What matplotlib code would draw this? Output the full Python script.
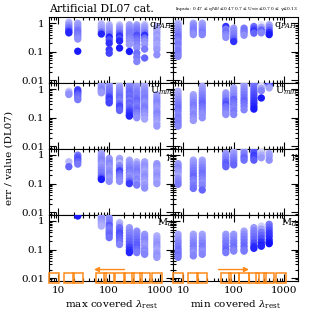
import matplotlib.pyplot as plt
import numpy as np
from matplotlib.colors import LinearSegmentedColormap
from matplotlib.ticker import FixedLocator, LogLocator, NullFormatter

plt.rcParams['font.family'] = ['DejaVu Serif']
plt.rcParams['mathtext.fontset'] = 'dejavuserif'

# wavelengths of the columns (um)
lam_max = [16, 24, 70, 100, 160, 250, 350, 500, 870]
lam_min = [8, 16, 24, 70, 100, 160, 250, 350, 500]
bands = [8, 16, 24, 70, 100, 160, 250, 350, 500, 870]

params = ['q$_{PAH}$', 'U$_{min}$', r'$\gamma$', 'M$_d$']

# ---- q_PAH ----
qpah_max_y = [
    [1.1, 0.95, 0.82, 0.7, 0.6, 0.52, 0.46],
    [1.0, 0.85, 0.7, 0.58, 0.48, 0.4, 0.33, 0.28, 0.105],
    [0.95, 0.82, 0.7, 0.6, 0.5, 0.42],
    [0.88, 0.75, 0.62, 0.52, 0.42, 0.33, 0.26, 0.2, 0.12, 0.09],
    [0.88, 0.75, 0.62, 0.52, 0.44, 0.36, 0.29, 0.24, 0.136],
    [0.88, 0.75, 0.64, 0.55, 0.46, 0.38, 0.3, 0.24, 0.18, 0.103],
    [0.88, 0.75, 0.64, 0.55, 0.46, 0.38, 0.3, 0.24, 0.18, 0.14, 0.09, 0.065, 0.046],
    [0.88, 0.75, 0.64, 0.55, 0.46, 0.38, 0.3, 0.24, 0.18, 0.125, 0.061],
    [0.77, 0.62, 0.5, 0.4, 0.32, 0.25, 0.19, 0.15, 0.12, 0.079],
]
qpah_max_s = [
    [0.2, 0.3, 0.4, 0.5, 0.6, 0.8, 0.9],
    [0.3, 0.35, 0.4, 0.5, 0.55, 0.5, 0.45, 0.4, 0.95],
    [0.2, 0.25, 0.3, 0.35, 0.5, 0.9],
    [0.2, 0.3, 0.35, 0.4, 0.5, 0.9, 0.7, 0.85, 0.8, 0.75],
    [0.15, 0.3, 0.4, 0.45, 0.6, 0.85, 0.7, 0.9, 0.95],
    [0.3, 0.35, 0.4, 0.45, 0.5, 0.5, 0.45, 0.4, 0.35, 0.95],
    [0.3, 0.4, 0.45, 0.5, 0.55, 0.7, 0.6, 0.5, 0.45, 0.4, 0.55, 0.5, 0.45],
    [0.2, 0.3, 0.35, 0.4, 0.5, 0.85, 0.55, 0.4, 0.35, 0.5, 0.6],
    [0.25, 0.3, 0.3, 0.35, 0.3, 0.35, 0.3, 0.3, 0.35, 0.4],
]
qpah_min_y = [
    [1.0, 0.85, 0.7, 0.58, 0.48, 0.4, 0.33, 0.27, 0.22, 0.18, 0.14, 0.11, 0.085, 0.069],
    [1.0, 0.85, 0.7, 0.58, 0.48, 0.4],
    [1.0, 0.85, 0.7, 0.58, 0.48, 0.4],
    [0.77, 0.62, 0.5, 0.4, 0.32],
    [0.67, 0.55, 0.44, 0.35, 0.28, 0.23],
    [0.67, 0.55, 0.46, 0.38],
    [0.77, 0.64, 0.54, 0.45],
    [0.88, 0.72, 0.58, 0.46],
    [0.88, 0.72, 0.58, 0.48, 0.4],
]
qpah_min_s = [
    [0.2, 0.3, 0.35, 0.4, 0.45, 0.5, 0.55, 0.5, 0.45, 0.5, 0.45, 0.5, 0.5, 0.45],
    [0.3, 0.4, 0.45, 0.5, 0.45, 0.4],
    [0.3, 0.35, 0.4, 0.45, 0.5, 0.45],
    [0.85, 0.5, 0.55, 0.45, 0.4],
    [0.35, 0.4, 0.45, 0.5, 0.6, 0.85],
    [0.5, 0.55, 0.5, 0.4],
    [0.55, 0.7, 0.85, 0.6],
    [0.0, 0.3, 0.6, 0.45],
    [0.3, 0.45, 0.6, 0.85, 0.95],
]

# ---- U_min ----
umin_max_y = [
    [0.85, 0.75, 0.65],
    [0.95, 0.82, 0.7, 0.6, 0.5, 0.43],
    [1.5, 1.3, 1.1, 0.95, 0.82, 0.74],
    [1.5, 1.25, 1.05, 0.88, 0.74, 0.62, 0.52, 0.44, 0.37, 0.33],
    [1.5, 1.25, 1.05, 0.88, 0.74, 0.62, 0.52, 0.43, 0.36, 0.3, 0.25, 0.21, 0.18],
    [1.43, 1.2, 1.0, 0.84, 0.7, 0.58, 0.48, 0.4, 0.33, 0.27, 0.22, 0.18, 0.15, 0.125, 0.114],
    [1.43, 1.2, 1.0, 0.84, 0.7, 0.58, 0.48, 0.4, 0.33, 0.27, 0.22, 0.18, 0.15, 0.12, 0.1],
    [1.43, 1.2, 1.0, 0.84, 0.7, 0.58, 0.48, 0.4, 0.33, 0.27, 0.22, 0.18, 0.15, 0.12, 0.09],
    [0.64, 0.52, 0.42, 0.34, 0.27, 0.22, 0.17, 0.14, 0.11, 0.085, 0.065, 0.051],
]
umin_max_s = [
    [0.1, 0.3, 0.4],
    [0.75, 0.8, 0.7, 0.6, 0.55, 0.5],
    [0.3, 0.35, 0.4, 0.45, 0.4, 0.35],
    [0.35, 0.4, 0.45, 0.5, 0.55, 0.6, 0.75, 0.8, 0.7, 0.75],
    [0.1, 0.3, 0.35, 0.4, 0.45, 0.5, 0.55, 0.5, 0.45, 0.6, 0.75, 0.7, 0.6],
    [0.4, 0.45, 0.5, 0.55, 0.6, 0.55, 0.6, 0.5, 0.6, 0.55, 0.6, 0.7, 0.8, 0.85, 0.9],
    [0.3, 0.35, 0.4, 0.45, 0.5, 0.5, 0.55, 0.6, 0.55, 0.5, 0.55, 0.6, 0.5, 0.45, 0.4],
    [0.25, 0.3, 0.35, 0.4, 0.45, 0.45, 0.5, 0.45, 0.4, 0.45, 0.5, 0.45, 0.4, 0.35, 0.3],
    [0.3, 0.35, 0.4, 0.45, 0.4, 0.35, 0.4, 0.45, 0.4, 0.35, 0.3, 0.35],
]
umin_min_y = [
    [0.84, 0.68, 0.55, 0.44, 0.35, 0.28, 0.22, 0.17, 0.13, 0.1, 0.08, 0.063, 0.051],
    [0.64, 0.52, 0.42, 0.34, 0.27, 0.21, 0.17, 0.13, 0.1, 0.08],
    [1.26, 1.0, 0.8, 0.64, 0.5, 0.4, 0.32, 0.25, 0.2, 0.16, 0.13, 0.1],
    [0.74, 0.6, 0.48, 0.38, 0.3, 0.24, 0.19, 0.15, 0.13],
    [1.1, 0.88, 0.7, 0.56, 0.44, 0.35, 0.28, 0.22, 0.17, 0.13],
    [1.55, 1.25, 1.0, 0.8, 0.64, 0.5, 0.4, 0.32, 0.25, 0.19],
    [1.55, 1.25, 1.0, 0.8, 0.64, 0.5, 0.4, 0.32, 0.25, 0.2],
    [1.5, 1.25, 1.05, 0.88, 0.49],
    [1.5, 1.3, 1.1],
]
umin_min_s = [
    [0.25, 0.3, 0.35, 0.4, 0.45, 0.5, 0.55, 0.5, 0.45, 0.5, 0.45, 0.5, 0.45],
    [0.3, 0.35, 0.4, 0.45, 0.5, 0.45, 0.4, 0.45, 0.4, 0.35],
    [0.3, 0.35, 0.4, 0.45, 0.5, 0.55, 0.6, 0.55, 0.5, 0.45, 0.4, 0.4],
    [0.35, 0.4, 0.45, 0.6, 0.7, 0.55, 0.5, 0.45, 0.4],
    [0.3, 0.35, 0.4, 0.45, 0.6, 0.55, 0.5, 0.45, 0.5, 0.45],
    [0.3, 0.35, 0.4, 0.45, 0.5, 0.55, 0.6, 0.55, 0.5, 0.45],
    [0.5, 0.55, 0.6, 0.65, 0.7, 0.75, 0.8, 0.85, 0.9, 0.95],
    [0.5, 0.05, 0.3, 0.45, 0.95],
    [0.9, 0.6, 0.3],
]

# ---- gamma ----
gam_max_y = [
    [0.58, 0.39],
    [0.99, 0.84, 0.7, 0.58, 0.48],
    [1.14, 0.95, 0.8, 0.66, 0.55, 0.45, 0.37, 0.3, 0.24, 0.19, 0.16, 0.14],
    [0.76, 0.63, 0.52, 0.43, 0.35, 0.28, 0.22, 0.18, 0.15, 0.12],
    [0.76, 0.63, 0.52, 0.43, 0.35, 0.28, 0.22, 0.18, 0.15, 0.12],
    [0.66, 0.55, 0.45, 0.37, 0.3, 0.24, 0.19, 0.15, 0.12, 0.1],
    [0.58, 0.48, 0.4, 0.33, 0.27, 0.22, 0.18, 0.14, 0.11, 0.089],
    [0.58, 0.48, 0.4, 0.33, 0.27, 0.22, 0.18, 0.14, 0.11, 0.09, 0.07],
    [0.5, 0.42, 0.35, 0.29, 0.24, 0.19, 0.15, 0.12, 0.1],
]
gam_max_s = [
    [0.2, 0.6],
    [0.5, 0.65, 0.7, 0.6, 0.5],
    [0.3, 0.35, 0.4, 0.45, 0.4, 0.35, 0.4, 0.45, 0.5, 0.55, 0.7, 0.95],
    [0.35, 0.4, 0.45, 0.4, 0.35, 0.4, 0.45, 0.4, 0.35, 0.4],
    [0.3, 0.35, 0.2, 0.4, 0.5, 0.75, 0.6, 0.5, 0.45, 0.4],
    [0.3, 0.35, 0.4, 0.45, 0.5, 0.45, 0.4, 0.45, 0.6, 0.8],
    [0.2, 0.35, 0.4, 0.45, 0.5, 0.45, 0.4, 0.45, 0.4, 0.5],
    [0.3, 0.35, 0.4, 0.35, 0.3, 0.35, 0.4, 0.35, 0.3, 0.35, 0.4],
    [0.35, 0.4, 0.35, 0.3, 0.35, 0.4, 0.35, 0.3, 0.35],
]
gam_min_y = [
    [0.5, 0.42, 0.35, 0.29, 0.24, 0.19, 0.15, 0.12, 0.095],
    [0.66, 0.54, 0.44, 0.36, 0.29, 0.23, 0.18, 0.14, 0.11, 0.085, 0.068],
    [0.66, 0.54, 0.44, 0.36, 0.29, 0.23, 0.18, 0.14, 0.11, 0.085, 0.06],
    [1.14, 0.95, 0.8, 0.66, 0.55, 0.46, 0.39],
    [1.3, 1.1, 0.92, 0.78, 0.65, 0.54, 0.45],
    [1.5, 1.2, 0.95, 0.8, 0.66],
    [1.5, 1.2, 0.95, 0.8, 0.66],
    [1.3, 1.0, 0.8],
    [1.14, 0.9, 0.66],
]
gam_min_s = [
    [0.35, 0.4, 0.45, 0.4, 0.35, 0.3, 0.4, 0.45, 0.5],
    [0.3, 0.35, 0.4, 0.45, 0.5, 0.55, 0.6, 0.5, 0.45, 0.5, 0.55],
    [0.3, 0.35, 0.4, 0.45, 0.5, 0.55, 0.5, 0.45, 0.4, 0.45, 0.6],
    [0.35, 0.4, 0.45, 0.5, 0.6, 0.65, 0.6],
    [0.3, 0.35, 0.4, 0.45, 0.5, 0.55, 0.6],
    [0.3, 0.45, 0.5, 0.6, 0.55],
    [0.6, 0.7, 0.8, 0.75, 0.65],
    [0.1, 0.25, 0.35],
    [0.3, 0.35, 0.4],
]

# ---- M_d ----
md_max_y = [
    [],
    [1.48],
    [1.7, 1.4, 1.15, 0.95, 0.8, 0.66],
    [1.3, 1.05, 0.85, 0.7, 0.58, 0.48, 0.4, 0.33, 0.26],
    [0.87, 0.72, 0.58, 0.47, 0.38, 0.3, 0.24, 0.19, 0.15],
    [0.58, 0.47, 0.38, 0.3, 0.24, 0.19, 0.15, 0.12, 0.095, 0.078],
    [0.44, 0.36, 0.29, 0.23, 0.18, 0.14, 0.11, 0.09, 0.078],
    [0.34, 0.28, 0.22, 0.17, 0.14, 0.11, 0.09, 0.078, 0.068],
    [0.3, 0.24, 0.19, 0.15, 0.12, 0.095, 0.075, 0.062, 0.053],
]
md_max_s = [
    [],
    [0.95],
    [0.3, 0.35, 0.4, 0.35, 0.3, 0.25],
    [0.4, 0.45, 0.5, 0.65, 0.55, 0.5, 0.55, 0.6, 0.55],
    [0.2, 0.3, 0.55, 0.6, 0.7, 0.65, 0.6, 0.55, 0.45],
    [0.35, 0.4, 0.45, 0.5, 0.55, 0.6, 0.65, 0.75, 0.85, 0.9],
    [0.4, 0.45, 0.5, 0.55, 0.6, 0.65, 0.6, 0.55, 0.5],
    [0.35, 0.4, 0.45, 0.4, 0.35, 0.4, 0.45, 0.4, 0.45],
    [0.25, 0.3, 0.35, 0.4, 0.35, 0.3, 0.35, 0.4, 0.35],
]
md_min_y = [
    [0.34, 0.27, 0.21, 0.17, 0.13, 0.1, 0.08, 0.065, 0.053],
    [0.34, 0.27, 0.21, 0.17, 0.13, 0.1, 0.08, 0.06],
    [0.34, 0.27, 0.21, 0.17, 0.13, 0.1, 0.085, 0.068],
    [0.34, 0.27, 0.21, 0.17, 0.13, 0.1, 0.078],
    [0.34, 0.27, 0.21, 0.17, 0.13, 0.1, 0.088],
    [0.44, 0.35, 0.28, 0.22, 0.17, 0.13, 0.1, 0.088],
    [0.58, 0.46, 0.36, 0.28, 0.22, 0.17, 0.13, 0.11],
    [0.66, 0.52, 0.4, 0.31, 0.24, 0.18, 0.14, 0.13],
    [0.76, 0.6, 0.47, 0.37, 0.29, 0.22, 0.18, 0.16],
]
md_min_s = [
    [0.3, 0.35, 0.4, 0.45, 0.5, 0.55, 0.5, 0.55, 0.5],
    [0.3, 0.35, 0.4, 0.45, 0.5, 0.45, 0.4, 0.45],
    [0.3, 0.35, 0.4, 0.45, 0.5, 0.45, 0.4, 0.45],
    [0.35, 0.4, 0.45, 0.5, 0.55, 0.6, 0.5],
    [0.35, 0.4, 0.45, 0.5, 0.55, 0.5, 0.45],
    [0.3, 0.4, 0.45, 0.5, 0.55, 0.6, 0.55, 0.5],
    [0.35, 0.45, 0.5, 0.55, 0.6, 0.7, 0.85, 0.9],
    [0.1, 0.3, 0.5, 0.6, 0.7, 0.85, 0.95, 0.9],
    [0.5, 0.6, 0.7, 0.8, 0.85, 0.9, 0.95, 1.0],
]

left_y = [qpah_max_y, umin_max_y, gam_max_y, md_max_y]
left_s = [qpah_max_s, umin_max_s, gam_max_s, md_max_s]
right_y = [qpah_min_y, umin_min_y, gam_min_y, md_min_y]
right_s = [qpah_min_s, umin_min_s, gam_min_s, md_min_s]

cmap = LinearSegmentedColormap.from_list('blues', ['#e4e4fc', '#1010ff'])
orange = '#ff8a1a'

fig, axes = plt.subplots(4, 2, figsize=(3.16, 3.16), dpi=100, sharex=True, sharey=True)
fig.subplots_adjust(left=0.155, right=0.943, top=0.945, bottom=0.111, hspace=0, wspace=0)

for row in range(4):
    for col in range(2):
        ax = axes[row, col]
        lams = lam_max if col == 0 else lam_min
        ys = left_y[row] if col == 0 else right_y[row]
        ss = left_s[row] if col == 0 else right_s[row]
        for lam, yv, sv in zip(lams, ys, ss):
            if len(yv) == 0:
                continue
            ax.scatter([lam] * len(yv), yv, c=cmap(np.array(sv)), s=28,
                       edgecolors='none', zorder=3)
        ax.set_xscale('log')
        ax.set_yscale('log')
        ax.set_xlim(6.5, 1850)
        ax.set_ylim(0.008, 1.6)
        ax.xaxis.set_major_locator(FixedLocator([10, 100, 1000]))
        ax.xaxis.set_minor_locator(LogLocator(base=10, subs=np.arange(2, 10)))
        ax.yaxis.set_major_locator(FixedLocator([0.01, 0.1, 1]))
        ax.yaxis.set_minor_locator(LogLocator(base=10, subs=np.arange(2, 10)))
        ax.yaxis.set_minor_formatter(NullFormatter())
        ax.xaxis.set_minor_formatter(NullFormatter())
        ax.set_yticklabels(['0.01', '0.1', '1'])
        ax.set_xticklabels(['10', '100', '1000'])
        ax.tick_params(which='both', direction='in', top=True, right=True,
                       labelsize=7.5, width=0.8)
        ax.tick_params(which='major', length=5)
        ax.tick_params(which='minor', length=2.5)
        for sp in ax.spines.values():
            sp.set_linewidth(0.8)
        ax.text(0.995, 0.88, params[row], transform=ax.transAxes,
                ha='right', va='center', fontsize=7)
        if row == 3:
            ax.plot(bands, [0.0105] * len(bands), 's', mfc='none', mec=orange,
                    ms=6.5, mew=1.1, zorder=4, clip_on=False)
            if col == 0:
                start, end = 200, 50
            else:
                start, end = 50, 200
            ax.annotate('', xy=(end, 0.02), xytext=(start, 0.02),
                        arrowprops=dict(arrowstyle='-|>', color=orange, lw=1,
                                        mutation_scale=7, shrinkA=0, shrinkB=0),
                        zorder=6)

axes[3, 0].set_xlabel(r'max covered $\lambda_{\rm rest}$', fontsize=7.5, labelpad=3)
axes[3, 1].set_xlabel(r'min covered $\lambda_{\rm rest}$', fontsize=7.5, labelpad=3)
fig.text(0.03, 0.5, 'err / value (DL07)', rotation=90, ha='center', va='center', fontsize=7.5)
fig.text(0.155, 0.955, 'Artificial DL07 cat.', fontsize=7.8, ha='left', va='bottom')
fig.text(0.943, 0.958, 'Inputs: 0.47 \u2264 q$_{PAH}$ \u22640.47 0.7 \u2264 U$_{min}$ \u22640.7 0 \u2264 \u03b3\u22640.13',
         fontsize=3.2, ha='right', va='bottom')

plt.savefig('out.png', dpi=100)
